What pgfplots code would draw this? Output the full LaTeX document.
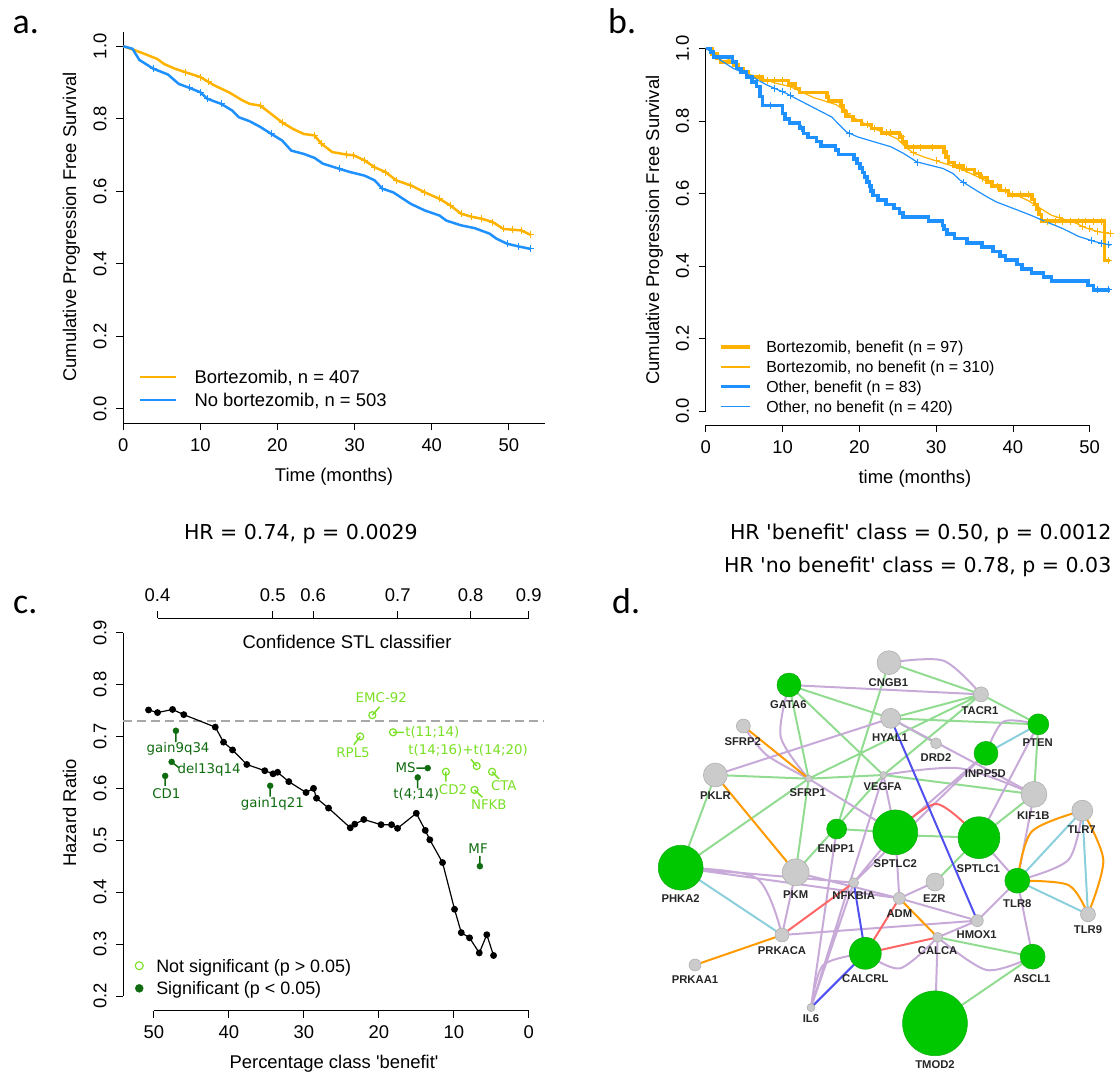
\documentclass[border=0pt]{standalone}
\usepackage{pgfplots}
\pgfplotsset{compat=1.18}
\usepackage{fontspec}
\setmainfont{Liberation Sans}
\newfontfamily\dejavu{DejaVu Sans}
\newfontfamily\carlito{Carlito}
\definecolor{kmorange}{HTML}{FFB300}
\definecolor{kmblue}{HTML}{1E90FF}
\definecolor{sigdark}{HTML}{0F6B0F}
\definecolor{nsig}{HTML}{7AE025}
\definecolor{hrgray}{HTML}{A8A8A8}
\definecolor{egreen}{HTML}{92DC92}
\definecolor{epurple}{HTML}{C8AAD8}
\definecolor{eorange}{HTML}{FF9A00}
\definecolor{ered}{HTML}{FF6666}
\definecolor{eblue}{HTML}{5050F0}
\definecolor{ecyan}{HTML}{8CCFDC}
\definecolor{ngreen}{HTML}{00C800}
\definecolor{ngreenedge}{HTML}{10B010}
\definecolor{ngray}{HTML}{CBCBCB}
\definecolor{ngrayedge}{HTML}{B0B0B0}
\newcommand{\rfont}{\fontsize{18.5}{22}\selectfont}
\newcommand{\rsmall}{\fontsize{16}{19}\selectfont}
\newcommand{\cfont}{\dejavu\fontsize{13.4}{16}\selectfont}
\pgfplotsset{
  rbase/.style={
    scale only axis, clip=false,
    axis lines*=left,
    axis line style={line width=0.8bp,-},
    tick align=outside,
    major tick length=7bp,
    tick style={black,line width=0.8bp},
    xticklabel style={font=\rfont,anchor=north,inner sep=0pt},
    yticklabel style={font=\rfont,rotate=90,anchor=south,inner sep=0pt},
    xticklabel shift=8bp,
    yticklabel shift=9.5bp,
    label style={font=\rfont},
    legend cell align=left,
  },
}
\tikzset{nlab/.style={font=\bfseries\fontsize{11.3}{13}\selectfont, text=black!85, inner sep=0pt}}
\newcommand{\nl}[3]{\node[nlab] at (axis cs:#1,#2) {#3};}
\begin{document}
\begin{tikzpicture}
\useasboundingbox (0bp,0bp) rectangle (1117bp,-1073bp);

% ---------------- panel a ----------------
\begin{axis}[rbase,
  at={(123.2bp,-423.3bp)}, anchor=south west,
  width=421.4bp, height=391.6bp,
  xmin=0, xmax=54.63, ymin=-0.04, ymax=1.04,
  xtick={0,10,20,30,40,50}, xticklabels={0,10,20,30,40,50},
  ytick={0,0.2,0.4,0.6,0.8,1}, yticklabels={0.0,0.2,0.4,0.6,0.8,1.0},
  xlabel={Time (months)}, ylabel={Cumulative Progression Free Survival},
  xlabel style={at={(axis description cs:0.5003,-0.1489)},anchor=base},
  ylabel style={at={(axis description cs:-0.1115,0.5013)},anchor=base},
  legend style={at={(axis description cs:0.0375,0.1348)},anchor=north west,draw=none,fill=none,inner sep=0pt,outer sep=0pt,font=\rfont,row sep=10bp,nodes={inner sep=0pt,text height=13bp,text depth=0bp},/tikz/every odd column/.append style={column sep=17bp}},
  legend image code/.code={\draw[#1] (0bp,0bp) -- (36bp,0bp);},
]
\addplot[kmorange, line width=2.5bp] coordinates {
(0,1.0) (1.6,0.988) (2.5,0.981) (4.4,0.965) (5.3,0.951) (6.7,0.938) (8.1,0.928) (10,0.915)
(11.8,0.892) (13.7,0.873) (15.5,0.850) (16.4,0.841) (17.8,0.836) (19.2,0.813) (20.6,0.790)
(22,0.772) (23.4,0.758) (24.8,0.754) (25.7,0.731) (27.1,0.708) (29,0.701) (29.9,0.699)
(31.3,0.685) (32.6,0.666) (34,0.653) (35.4,0.630) (37.3,0.616) (39.1,0.597) (41,0.579)
(42.4,0.561) (43.8,0.538) (45.1,0.530) (46.5,0.524) (47.9,0.515) (49.3,0.496) (51.6,0.492) (52.8,0.480)};
\addlegendentry{Bortezomib, n = 407}
\addplot[kmblue, line width=2.5bp] coordinates {
(0,1.0) (1.2,0.993) (2.1,0.962) (3.9,0.938) (5.8,0.922) (7.2,0.896) (8.6,0.885) (10,0.873)
(10.9,0.855) (12.7,0.841) (14.1,0.823) (15.0,0.804) (16.4,0.793) (17.8,0.777) (19.2,0.758)
(20.6,0.740) (21.8,0.712) (23.4,0.703) (24.8,0.692) (25.9,0.676) (28,0.662) (29.4,0.653)
(31.3,0.643) (32.6,0.630) (33.6,0.607) (35,0.597) (37.3,0.565) (39.1,0.547) (41,0.533)
(41.9,0.519) (43.8,0.506) (45.6,0.498) (47.5,0.483) (48.4,0.469) (49.8,0.455) (51.2,0.448) (52.8,0.441)};
\addlegendentry{No bortezomib, n = 503}
\addplot[forget plot, only marks, mark=+, mark size=3.5bp, kmorange, mark options={line width=1bp}] coordinates {
(8.1,0.928) (10,0.915) (11,0.903) (17.8,0.836) (20.6,0.790) (24.8,0.754) (25.7,0.731) (29,0.701)
(29.9,0.699) (31.3,0.685) (32.6,0.666) (34,0.653) (35.4,0.630) (37.3,0.616) (39.1,0.597)
(41,0.579) (42.4,0.561) (43.8,0.538) (45.1,0.530) (46.5,0.524) (47.9,0.515) (49.3,0.496)
(50.5,0.494) (51.6,0.492) (52.8,0.480)};
\addplot[forget plot, only marks, mark=+, mark size=3.5bp, kmblue, mark options={line width=1bp}] coordinates {
(3.9,0.938) (8.6,0.885) (10,0.873) (10.9,0.855) (12.7,0.841) (19.2,0.758) (28,0.662) (33.6,0.607)
(49.8,0.455) (51.2,0.448) (52.8,0.441)};
\end{axis}

% ---------------- panel b ----------------
\begin{axis}[rbase,
  at={(705.7bp,-425.4bp)}, anchor=south west,
  width=411.3bp, height=391.4bp,
  xmin=0, xmax=53.55, ymin=-0.04, ymax=1.04,
  axis line style={draw=none},
  xtick={0,10,20,30,40,50}, xticklabels={0,10,20,30,40,50},
  ytick={0,0.2,0.4,0.6,0.8,1}, yticklabels={0.0,0.2,0.4,0.6,0.8,1.0},
  xlabel={time (months)}, ylabel={Cumulative Progression Free Survival},
  xlabel style={at={(axis description cs:0.5087,-0.1492)},anchor=base},
  ylabel style={at={(axis description cs:-0.1132,0.4987)},anchor=base},
  legend style={at={(axis description cs:0.0333,0.2145)},anchor=north west,draw=none,fill=none,inner sep=0pt,outer sep=0pt,font=\rsmall,row sep=8.2bp,nodes={inner sep=0pt,text height=11.5bp,text depth=0bp},/tikz/every odd column/.append style={column sep=14.4bp}},
  legend image code/.code={\draw[#1] (0bp,0bp) -- (29bp,0bp);},
]
\draw[line width=0.8bp] (axis cs:0,0) -- (axis cs:0,1);
\draw[line width=0.8bp] (axis cs:0,-0.04) -- (axis cs:50,-0.04);
\addplot[kmorange, line width=3.5bp, const plot] coordinates {
(0,1.0) (0.8,0.985) (1.5,0.972) (1.9,0.963) (3.6,0.955) (4.2,0.945) (4.9,0.935) (5.6,0.922)
(7.3,0.912) (10.8,0.902) (11.7,0.890) (12.2,0.879) (15.8,0.866) (16.0,0.855) (17.6,0.843)
(17.9,0.828) (18.2,0.812) (19.2,0.802) (20.3,0.790) (21.6,0.779) (22.9,0.767) (25.2,0.756)
(25.6,0.742) (26.1,0.728) (31.0,0.715) (31.3,0.700) (31.6,0.686) (32.3,0.676) (33.5,0.666)
(35.0,0.655) (35.8,0.644) (36.6,0.632) (37.3,0.620) (38.3,0.608) (39.4,0.596) (42.5,0.584)
(42.8,0.570) (43.1,0.556) (43.4,0.542) (43.7,0.524) (51.8,0.524) (51.9,0.415) (52.7,0.415)};
\addlegendentry{Bortezomib, benefit (n = 97)}
\addplot[kmorange, line width=1.2bp] coordinates {
(0,1.0) (1,0.990) (2,0.978) (3,0.970) (3.8,0.960) (4.4,0.940) (5.5,0.930) (7,0.920) (9,0.905)
(11,0.895) (12.5,0.880) (14,0.865) (15.5,0.855) (17,0.845) (18,0.830) (19,0.812) (20.5,0.795)
(22,0.778) (23.5,0.765) (25,0.750) (26,0.728) (27,0.712) (28.5,0.700) (30,0.690) (31.5,0.680)
(33,0.670) (34.5,0.655) (36,0.640) (37.5,0.622) (39,0.605) (40.5,0.595) (42,0.580) (43.5,0.560)
(45,0.540) (46.5,0.530) (48,0.520) (49.5,0.505) (51,0.495) (52.7,0.489)};
\addlegendentry{Bortezomib, no benefit (n = 310)}
\addplot[kmblue, line width=3.5bp, const plot] coordinates {
(0,1.0) (0.6,0.990) (1.0,0.977) (3.5,0.963) (4.0,0.945) (4.6,0.935) (5.3,0.922) (6.0,0.908)
(6.6,0.895) (7.1,0.868) (7.4,0.843) (10.0,0.820) (10.3,0.805) (10.9,0.794) (12.2,0.780)
(12.7,0.766) (13.3,0.755) (14.4,0.743) (15.0,0.731) (16.9,0.720) (17.3,0.708) (19.3,0.695)
(19.7,0.682) (20.1,0.670) (20.4,0.658) (20.7,0.645) (21.0,0.632) (21.3,0.620) (21.5,0.607)
(21.8,0.595) (22.4,0.582) (23.5,0.570) (24.5,0.558) (25.2,0.546) (25.7,0.535) (29.0,0.524)
(30.8,0.512) (31.0,0.500) (31.4,0.488) (32.4,0.476) (34.0,0.464) (36.0,0.452) (37.4,0.440)
(38.3,0.428) (39.0,0.416) (40.5,0.404) (41.2,0.392) (42.4,0.380) (44.0,0.370) (45.0,0.358)
(49.8,0.346) (50.5,0.334) (52.7,0.334)};
\addlegendentry{Other, benefit (n = 83)}
\addplot[kmblue, line width=1.2bp] coordinates {
(0,1.0) (0.8,0.990) (1.9,0.968) (3.6,0.945) (5.7,0.926) (7.9,0.900) (10.5,0.876) (12.2,0.857)
(14.3,0.834) (16.4,0.811) (18.3,0.770) (19.8,0.756) (22,0.742) (24.1,0.729) (25.8,0.710)
(27.5,0.687) (29.2,0.678) (30.9,0.669) (32.2,0.655) (33.1,0.637) (34.8,0.614) (36.6,0.591)
(37.8,0.577) (40,0.559) (42.2,0.541) (44.3,0.522) (46.4,0.504) (48.6,0.481) (50.7,0.467) (52.7,0.457)};
\addlegendentry{Other, no benefit (n = 420)}
\addplot[forget plot, only marks, mark=+, mark size=3.5bp, kmorange, mark options={line width=1bp}] coordinates {
(8,0.912) (9,0.912) (10,0.912) (21,0.790) (22,0.779) (23.5,0.767) (24,0.767) (25.5,0.756)
(27,0.728) (28,0.728) (29.5,0.728) (33,0.676) (34,0.666) (35.5,0.655) (36,0.644) (38,0.620)
(39,0.608) (41,0.596) (42,0.596) (44.5,0.524) (45.5,0.524) (46.5,0.524) (47.5,0.524) (48.5,0.524)
(49.5,0.524) (50.5,0.524) (51.5,0.524) (52.5,0.415)
(7,0.920) (8,0.9125) (11,0.895) (18.5,0.821) (27,0.712) (30,0.690) (33,0.670) (36,0.640)
(40,0.598) (43,0.567) (46,0.533) (49,0.510) (50,0.502) (51,0.495) (52,0.4915) (52.7,0.489)};
\addplot[forget plot, only marks, mark=+, mark size=3.5bp, kmblue, mark options={line width=1bp}] coordinates {
(9,0.8898) (10,0.8806) (11,0.8704) (18.7,0.766) (27.6,0.6865) (33.6,0.630) (50.2,0.4703)
(51.5,0.463) (52.5,0.458) (8.5,0.843) (12.5,0.780) (51,0.334) (52.4,0.334)};
\end{axis}

% ---------------- panel c (main) ----------------
\begin{axis}[rbase,
  at={(123.2bp,-1010.5bp)}, anchor=south west,
  width=421.2bp, height=392.4bp,
  x dir=reverse,
  xmin=-2.08, xmax=54.08, ymin=0.172, ymax=0.928,
  axis line style={draw=none},
  xtick={0,10,20,30,40,50}, xticklabels={0,10,20,30,40,50},
  ytick={0.2,0.3,0.4,0.5,0.6,0.7,0.8,0.9}, yticklabels={0.2,0.3,0.4,0.5,0.6,0.7,0.8,0.9},
  xlabel={Percentage class \textquotesingle benefit\textquotesingle}, ylabel={Hazard Ratio},
  xlabel style={at={(axis cs:25.97,0.0606)},anchor=base},
  ylabel style={at={(axis cs:60.35,0.5525)},anchor=base},
  legend style={at={(axis cs:52.47,0.2707)},anchor=north west,draw=none,fill=none,inner sep=0pt,outer sep=0pt,font=\fontsize{18}{21}\selectfont,row sep=9.7bp,nodes={inner sep=0pt,text height=12.9bp,text depth=0bp},/tikz/every odd column/.append style={column sep=13bp}},
  legend image code/.code={\draw[#1] plot coordinates {(4bp,0bp)};},
]
\addlegendimage{only marks, mark=o, nsig, mark size=4bp, mark options={line width=1.1bp}}
\addlegendentry{Not significant (p > 0.05)}
\addlegendimage{only marks, mark=*, sigdark, mark size=4bp}
\addlegendentry{Significant (p < 0.05)}
\draw[line width=0.8bp] (axis cs:54.08,0.2) -- (axis cs:54.08,0.9);
\draw[line width=0.8bp] (axis cs:50,0.172) -- (axis cs:0,0.172);
\addplot[forget plot, hrgray, line width=1.3bp, dash pattern=on 9bp off 5bp] coordinates {(54.08,0.73) (-2.08,0.73)};
\addplot[forget plot, black, line width=1.2bp, mark=*, mark size=2.8bp] coordinates {
(50.7,0.751) (49.5,0.746) (47.5,0.752) (46.0,0.742) (41.8,0.718) (40.7,0.689) (39.5,0.674)
(37.6,0.646) (35.2,0.634) (34.1,0.628) (33.5,0.631) (32.0,0.613) (29.7,0.592) (28.7,0.600)
(28.3,0.581) (26.7,0.562) (23.8,0.524) (23.2,0.531) (22.0,0.540) (19.7,0.530) (18.3,0.530)
(17.5,0.523) (15.0,0.552) (13.8,0.519) (13.2,0.501) (11.5,0.457) (9.9,0.367) (9.0,0.322)
(7.9,0.312) (6.6,0.283) (5.6,0.318) (4.7,0.278)};
\addplot[forget plot, sigdark, line width=1.5bp, unbounded coords=jump] coordinates {
(47.05,0.711) (47.05,0.689) (nan,nan)
(47.62,0.651) (46.67,0.640) (nan,nan)
(48.48,0.624) (48.48,0.605) (nan,nan)
(34.48,0.605) (34.48,0.584) (nan,nan)
(13.48,0.639) (15.0,0.639) (nan,nan)
(14.81,0.621) (14.81,0.600) (nan,nan)
(6.52,0.450) (6.52,0.470)};
\addplot[forget plot, nsig, line width=1.5bp, unbounded coords=jump] coordinates {
(20.86,0.741) (19.9,0.757) (nan,nan)
(22.48,0.700) (23.33,0.684) (nan,nan)
(18.1,0.708) (16.67,0.708) (nan,nan)
(6.95,0.643) (7.71,0.656) (nan,nan)
(11.05,0.632) (11.05,0.613) (nan,nan)
(4.90,0.632) (3.95,0.618) (nan,nan)
(7.24,0.597) (6.19,0.583)};
\addplot[forget plot, only marks, mark=*, mark size=3bp, sigdark] coordinates {
(47.05,0.711) (47.62,0.651) (48.48,0.624) (34.48,0.605) (13.48,0.639) (14.81,0.621) (6.52,0.450)};
\addplot[forget plot, only marks, mark=o, mark size=3.5bp, nsig, mark options={line width=1.2bp, fill=white}] coordinates {
(20.86,0.741) (22.48,0.700) (18.1,0.708) (6.95,0.643) (11.05,0.632) (4.90,0.632) (7.24,0.597)};
\node[font=\cfont, text=sigdark] at (axis cs:46.76,0.677) {gain9q34};
\node[font=\cfont, text=sigdark] at (axis cs:42.62,0.635) {del13q14};
\node[font=\cfont, text=sigdark] at (axis cs:48.33,0.590) {CD1};
\node[font=\cfont, text=sigdark] at (axis cs:34.19,0.571) {gain1q21};
\node[font=\cfont, text=sigdark] at (axis cs:16.43,0.639) {MS};
\node[font=\cfont, text=sigdark] at (axis cs:15.0,0.589) {t(4;14)};
\node[font=\cfont, text=sigdark] at (axis cs:6.76,0.483) {MF};
\node[font=\cfont, text=nsig] at (axis cs:19.67,0.775) {EMC-92};
\node[font=\cfont, text=nsig] at (axis cs:23.43,0.669) {RPL5};
\node[font=\cfont, text=nsig] at (axis cs:12.86,0.708) {t(11;14)};
\node[font=\cfont, text=nsig] at (axis cs:8.10,0.673) {t(14;16)+t(14;20)};
\node[font=\cfont, text=nsig] at (axis cs:10.10,0.598) {CD2};
\node[font=\cfont, text=nsig] at (axis cs:3.33,0.605) {CTA};
\node[font=\cfont, text=nsig] at (axis cs:5.33,0.568) {NFKB};
\end{axis}

% ---------------- panel c (top axis) ----------------
\begin{axis}[rbase,
  at={(123.2bp,-1010.5bp)}, anchor=south west,
  width=421.2bp, height=392.4bp,
  x dir=reverse,
  xmin=-2.08, xmax=54.08, ymin=0.172, ymax=0.928,
  axis x line*=top, axis y line=none,
  axis line style={draw=none},
  ytick=\empty,
  xtick={49.5,34.14,28.76,17.48,7.76,0}, xticklabels={0.4,0.5,0.6,0.7,0.8,0.9},
  xticklabel style={font=\rfont,anchor=south,inner sep=0pt},
  xticklabel shift=9.5bp,
]
\draw[line width=0.8bp] (axis cs:49.5,0.928) -- (axis cs:0,0.928);
\node[anchor=base, font=\rfont, inner sep=0pt] at (axis cs:24.24,0.8699) {Confidence STL classifier};
\end{axis}

% ---------------- panel d (network) ----------------
\begin{axis}[
  at={(660bp,-640bp)}, anchor=north west,
  x=0.33333bp, y=0.33333bp, y dir=reverse,
  xmin=0, xmax=1371, ymin=0, ymax=1299,
  hide axis, clip=false,
]
\addplot[egreen, line width=2bp, unbounded coords=jump] coordinates {
(687,68) (963,163) (nan,nan) (687,68) (530,567) (nan,nan)
(387,135) (692,235) (nan,nan) (387,135) (670,405) (nan,nan) (387,135) (446,416) (nan,nan)
(963,163) (1135,253) (nan,nan) (963,163) (692,235) (nan,nan) (963,163) (670,405) (nan,nan)
(963,163) (446,416) (nan,nan)
(692,235) (1135,253) (nan,nan) (692,235) (828,310) (nan,nan)
(166,405) (446,416) (nan,nan) (446,416) (670,405) (nan,nan) (670,405) (1122,463) (nan,nan)
(1135,253) (1122,463) (nan,nan) (166,405) (62,683) (nan,nan) (446,416) (62,683) (nan,nan)
(446,416) (407,697) (nan,nan) (670,405) (407,697) (nan,nan) (530,567) (706,577) (nan,nan)
(706,585) (957,593) (nan,nan) (1122,463) (957,593) (nan,nan) (825,726) (957,593) (nan,nan)
(833,892) (1118,950) (nan,nan) (1118,950) (825,1150)};
\addplot[epurple, line width=2bp, unbounded coords=jump] coordinates {
(387,135) (963,163) (nan,nan) (166,405) (692,235) (nan,nan) (692,235) (1122,463) (nan,nan)
(446,416) (706,577) (nan,nan) (670,405) (706,577) (nan,nan) (670,405) (453,1103) (nan,nan)
(530,567) (453,1103) (nan,nan) (978,340) (581,728) (nan,nan) (978,340) (706,577) (nan,nan)
(1135,253) (957,593) (nan,nan) (1122,463) (1072,722) (nan,nan) (957,593) (1072,722) (nan,nan)
(706,577) (718,775) (nan,nan) (581,728) (706,577) (nan,nan) (825,726) (718,775) (nan,nan)
(718,775) (952,842) (nan,nan) (952,842) (1072,722) (nan,nan) (952,842) (833,892) (nan,nan)
(366,885) (952,842) (nan,nan) (407,697) (366,885) (nan,nan) (407,697) (718,775) (nan,nan)
(62,683) (581,728) (nan,nan) (62,683) (718,775) (nan,nan) (581,728) (453,1103) (nan,nan)
(833,892) (825,1150) (nan,nan) (1072,722) (1118,950)};
\addplot[epurple, line width=2bp, smooth] coordinates {(687,68) (850,62) (963,163)};
\addplot[epurple, line width=2bp, smooth] coordinates {(387,135) (362,290) (446,416)};
\addplot[epurple, line width=2bp, smooth] coordinates {(250,258) (320,345) (446,416)};
\addplot[epurple, line width=2bp, smooth] coordinates {(1135,253) (1030,245) (978,340)};
\addplot[epurple, line width=2bp, smooth] coordinates {(670,405) (900,385) (1122,463)};
\addplot[epurple, line width=2bp, smooth] coordinates {(1267,512) (1225,660) (1072,722)};
\addplot[epurple, line width=2bp, smooth] coordinates {(62,683) (290,715) (366,885)};
\addplot[epurple, line width=2bp, smooth] coordinates {(453,1103) (490,975) (616,940)};
\addplot[epurple, line width=2bp, smooth] coordinates {(616,940) (720,985) (833,892)};
\addplot[epurple, line width=2bp, smooth] coordinates {(833,892) (980,990) (1118,950)};
\addplot[ered, line width=2bp, unbounded coords=jump] coordinates {
(581,728) (366,885) (nan,nan) (718,775) (616,940) (nan,nan) (833,892) (616,940)};
\addplot[ered, line width=2bp, smooth] coordinates {(706,577) (830,492) (957,593)};
\addplot[eorange, line width=2bp, unbounded coords=jump] coordinates {
(250,258) (446,416) (nan,nan) (166,405) (407,697) (nan,nan) (366,885) (105,975) (nan,nan) (718,775) (833,892)};
\addplot[eorange, line width=2bp, smooth] coordinates {(1267,512) (1115,575) (1072,722)};
\addplot[eorange, line width=2bp, smooth] coordinates {(1072,722) (1225,735) (1284,823)};
\addplot[eorange, line width=2bp, smooth] coordinates {(1267,512) (1330,660) (1284,823)};
\addplot[eblue, line width=2bp, unbounded coords=jump] coordinates {
(692,235) (952,842) (nan,nan) (581,728) (616,940) (nan,nan) (453,1103) (616,940)};
\addplot[ecyan, line width=2bp, unbounded coords=jump] coordinates {
(1135,253) (978,340) (nan,nan) (1267,512) (1072,722) (nan,nan) (1267,512) (1284,823) (nan,nan)
(1072,722) (1284,823) (nan,nan) (62,683) (366,885)};
\addplot[scatter, only marks, mark=*, scatter/use mapped color={draw=ngrayedge, fill=ngray},
  visualization depends on={\thisrow{r}\as\rr},
  scatter/@pre marker code/.append style={/tikz/mark size=\rr}, mark options={line width=0.6bp}]
table[x=x,y=y] {
x y r
687 68 12
963 163 7.5
692 235 10
250 258 7
828 310 5.5
166 405 12
446 416 3.5
670 405 3.5
1122 463 13
1267 512 10.5
407 697 13.5
581 728 5
825 726 9
718 775 6
1284 823 7.5
952 842 6
366 885 7
833 892 5
105 975 6
453 1103 4
};
\addplot[scatter, only marks, mark=*, scatter/use mapped color={draw=ngreenedge, fill=ngreen},
  visualization depends on={\thisrow{r}\as\rr},
  scatter/@pre marker code/.append style={/tikz/mark size=\rr}, mark options={line width=0.6bp}]
table[x=x,y=y] {
x y r
387 135 12
1135 253 10.5
978 340 12
530 567 10
706 577 22.5
957 593 21
62 683 22.5
1072 722 12.5
616 940 16
1118 950 12.5
825 1150 32.5
};
\nl{685}{127}{CNGB1}
\nl{385}{195}{GATA6}
\nl{960}{213}{TACR1}
\nl{690}{292}{HYAL1}
\nl{1133}{308}{PTEN}
\nl{248}{305}{SFRP2}
\nl{828}{352}{DRD2}
\nl{976}{402}{INPP5D}
\nl{166}{468}{PKLR}
\nl{443}{458}{SFRP1}
\nl{668}{441}{VEGFA}
\nl{1120}{527}{KIF1B}
\nl{1265}{570}{TLR7}
\nl{528}{625}{ENPP1}
\nl{706}{672}{SPTLC2}
\nl{955}{685}{SPTLC1}
\nl{62}{777}{PHKA2}
\nl{407}{763}{PKM}
\nl{1072}{790}{TLR8}
\nl{581}{768}{NFKBIA}
\nl{823}{777}{EZR}
\nl{718}{820}{ADM}
\nl{1284}{870}{TLR9}
\nl{950}{884}{HMOX1}
\nl{366}{933}{PRKACA}
\nl{833}{933}{CALCA}
\nl{616}{1017}{CALCRL}
\nl{1116}{1017}{ASCL1}
\nl{105}{1020}{PRKAA1}
\nl{453}{1137}{IL6}
\nl{825}{1275}{TMOD2}
\end{axis}

\node[anchor=base west, font=\carlito\fontsize{36}{40}\selectfont, inner sep=0pt] at (12.5bp,-33.3bp) {a.};
\node[anchor=base west, font=\carlito\fontsize{36}{40}\selectfont, inner sep=0pt] at (608bp,-33.3bp) {b.};
\node[anchor=base west, font=\carlito\fontsize{36}{40}\selectfont, inner sep=0pt] at (13bp,-613bp) {c.};
\node[anchor=base west, font=\carlito\fontsize{36}{40}\selectfont, inner sep=0pt] at (612bp,-613bp) {d.};
\node[anchor=base west, font=\dejavu\fontsize{20.6}{24}\selectfont, inner sep=0pt] at (183.8bp,-539.2bp) {HR = 0.74, p = 0.0029};
\node[anchor=base east, font=\dejavu\fontsize{20.6}{24}\selectfont, inner sep=0pt] at (1111.5bp,-539.2bp) {HR \textquotesingle benefit\textquotesingle{} class = 0.50, p = 0.0012};
\node[anchor=base east, font=\dejavu\fontsize{20.6}{24}\selectfont, inner sep=0pt] at (1111.5bp,-572.5bp) {HR \textquotesingle no benefit\textquotesingle{} class = 0.78, p = 0.03};
\end{tikzpicture}
\end{document}
